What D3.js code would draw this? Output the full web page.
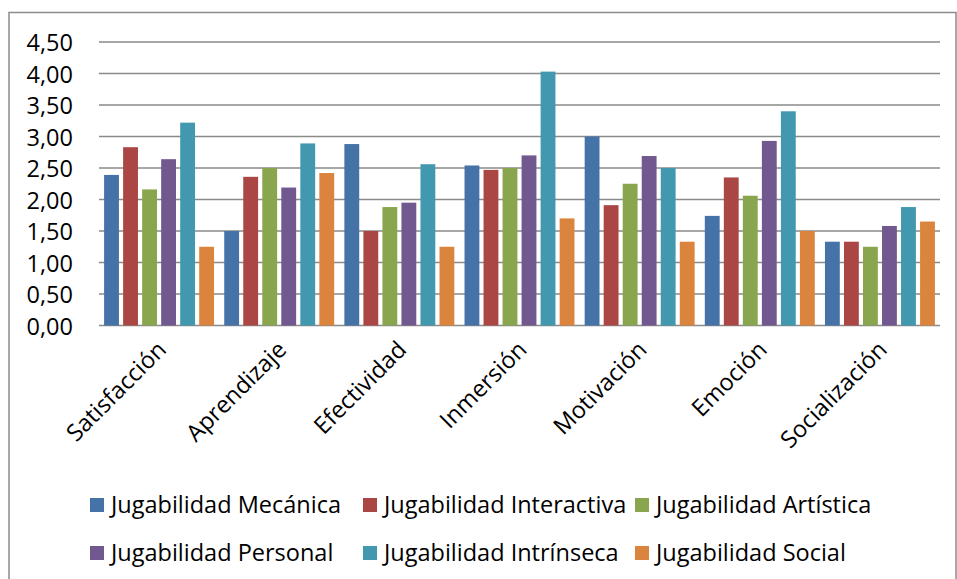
<!DOCTYPE html>
<html>
<head>
<meta charset="utf-8">
<script src="https://cdn.jsdelivr.net/npm/d3@7.9.0/dist/d3.min.js"></script>
<style>
  body { margin: 0; background: #fff; }
  svg text { font-family: "Open Sans", "Noto Sans", sans-serif; fill: #000; }
</style>
</head>
<body>
<svg id="chart" width="957" height="579"></svg>
<script>
// ---- data ----
const categories = ['Satisfacción', 'Aprendizaje', 'Efectividad', 'Inmersión', 'Motivación', 'Emoción', 'Socialización'];
const seriesNames = ['Jugabilidad Mecánica', 'Jugabilidad Interactiva', 'Jugabilidad Artística',
                     'Jugabilidad Personal', 'Jugabilidad Intrínseca', 'Jugabilidad Social'];
const mecanica    = [2.39, 1.50, 2.88, 2.54, 3.00, 1.74, 1.33];
const interactiva = [2.83, 2.36, 1.50, 2.47, 1.91, 2.35, 1.33];
const artistica   = [2.16, 2.50, 1.88, 2.50, 2.25, 2.06, 1.25];
const personal    = [2.64, 2.19, 1.95, 2.70, 2.69, 2.93, 1.58];
const intrinseca  = [3.22, 2.89, 2.56, 4.03, 2.50, 3.40, 1.88];
const social      = [1.25, 2.42, 1.25, 1.70, 1.33, 1.50, 1.65];
const yTicks = [0, 0.5, 1, 1.5, 2, 2.5, 3, 3.5, 4, 4.5];

const series = [mecanica, interactiva, artistica, personal, intrinseca, social];
const colors = ['#4572A7', '#AA4643', '#89A54E', '#71588F', '#4198AF', '#DB843D'];

const svg = d3.select('#chart');
const fs = '23.5px';

// outer frame
svg.append('rect')
  .attr('x', 9).attr('y', 12.5).attr('width', 947).attr('height', 600)
  .attr('fill', 'none').attr('stroke', '#8c8c8c').attr('stroke-width', 1.5);

const plotL = 99, plotR = 940, plotT = 42, plotB = 325.5;

const y = d3.scaleLinear().domain([0, 4.5]).range([plotB, plotT]);
const x0 = d3.scaleBand().domain(categories).range([plotL, plotR])
  .paddingInner(0.05).paddingOuter(0.025);
const x1 = d3.scaleBand().domain(d3.range(series.length)).range([0, x0.bandwidth()])
  .paddingInner(0.22).paddingOuter(0.11);

// gridlines
svg.append('g').selectAll('line').data(yTicks).join('line')
  .attr('x1', plotL).attr('x2', plotR)
  .attr('y1', d => y(d)).attr('y2', d => y(d))
  .attr('stroke', '#8a8a8a').attr('stroke-width', 1.6);

// y labels
const fmt = d => d.toFixed(2).replace('.', ',');
svg.append('g').selectAll('text').data(yTicks).join('text')
  .attr('x', 73).attr('y', d => y(d) + 1).attr('dy', '0.36em')
  .attr('text-anchor', 'end').style('font-size', fs)
  .text(fmt);

// bars
const groups = svg.append('g').selectAll('g').data(categories).join('g')
  .attr('transform', c => `translate(${x0(c)},0)`);
groups.selectAll('rect')
  .data((c, ci) => series.map((s, si) => ({ si, v: s[ci] })))
  .join('rect')
  .attr('x', d => x1(d.si))
  .attr('width', x1.bandwidth())
  .attr('y', d => y(d.v))
  .attr('height', d => y(0) - y(d.v))
  .attr('fill', d => colors[d.si]);

// category labels
svg.append('g').selectAll('text').data(categories).join('text')
  .attr('transform', c => `translate(${x0(c) + x0.bandwidth() / 2 - 3},${plotB + 14}) rotate(-45)`)
  .attr('text-anchor', 'end').attr('dy', '0.7em')
  .style('font-size', fs)
  .text(c => c);

// legend
const legX = [90, 363, 635];
const legY = [505, 553];
const leg = svg.append('g').selectAll('g').data(seriesNames).join('g')
  .attr('transform', (d, i) => `translate(${legX[i % 3]},${legY[Math.floor(i / 3)]})`);
leg.append('rect').attr('x', 0).attr('y', -7).attr('width', 14).attr('height', 14)
  .attr('fill', (d, i) => colors[i]);
leg.append('text').attr('x', 21).attr('y', 0).attr('dy', '0.36em')
  .style('font-size', fs)
  .text(d => d);
</script>
</body>
</html>
